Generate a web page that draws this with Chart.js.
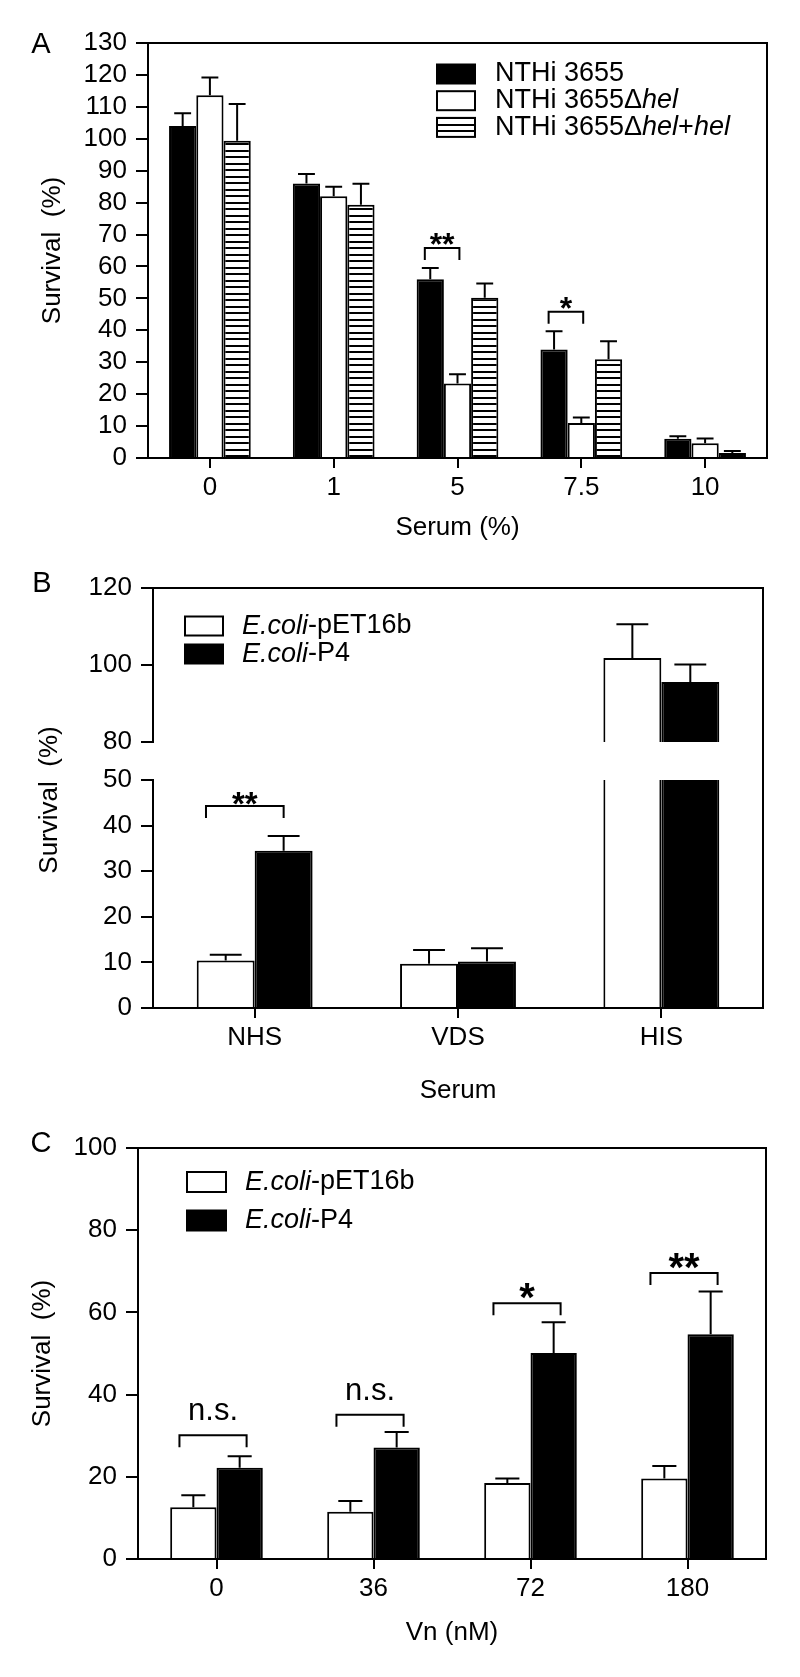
<!DOCTYPE html>
<html>
<head>
<meta charset="utf-8">
<script src="https://cdn.jsdelivr.net/npm/chart.js@4.4.0/dist/chart.umd.min.js"></script>
<style>
  html, body { margin: 0; padding: 0; background: #fff; }
  body { position: relative; width: 800px; height: 1677px; overflow: hidden; }
  canvas { position: absolute; left: 0; }
</style>
</head>
<body>
<canvas id="chartA" width="800" height="545" style="top:0px"></canvas>
<canvas id="chartBTop" width="800" height="565" style="top:545px"></canvas>
<canvas id="chartBBottom" width="800" height="352" style="top:758px"></canvas>
<canvas id="chartC" width="800" height="567" style="top:1110px"></canvas>
<script>
// ---- Panel A: survival vs serum concentration
const catsA = ['0', '1', '5', '7.5', '10'];
const seriesA = ['NTHi 3655', 'NTHi 3655Δ*hel*', 'NTHi 3655Δ*hel*+*hel*'];
const wtA = [104, 86, 56, 34, 6];
const wtErrA = [4, 3, 3.5, 5.7, 0.8];
const delA = [113.6, 82, 23.3, 11, 4.6];
const delErrA = [5.6, 3, 2.9, 1.7, 1.5];
const compA = [99.4, 79.3, 50.2, 30.9, 1.6];
const compErrA = [11.5, 6.6, 4.5, 5.7, 0.6];
const yRangeA = { min: 0, max: 130, step: 10 };
const sigA = [
  { cat: 2, a: 0, b: 1, y: 65.8, text: '**' },
  { cat: 3, a: 0, b: 1, y: 45.8, text: '*' },
];

// ---- Panel B: survival per serum type (broken y axis)
const catsB = ['NHS', 'VDS', 'HIS'];
const seriesB = ['*E.coli*-pET16b', '*E.coli*-P4'];
const vecB = [10.4, 9.7, 101.8];
const vecErrB = [1.3, 3.0, 8.8];
const p4B = [34.5, 10.2, 95.6];
const p4ErrB = [3.2, 2.9, 4.5];
const yRangeBTop = { min: 80, max: 120, step: 20 };
const yRangeBBottom = { min: 0, max: 50, step: 10 };
const sigB = [
  { cat: 0, a: 0, b: 1, y: 44.3, text: '**' },
];

// ---- Panel C: survival vs vitronectin
const catsC = ['0', '36', '72', '180'];
const seriesC = ['*E.coli*-pET16b', '*E.coli*-P4'];
const vecC = [12.6, 11.5, 18.5, 19.6];
const vecErrC = [2.9, 2.6, 1.1, 3.0];
const p4C = [22.2, 27.1, 50.1, 54.7];
const p4ErrC = [2.8, 3.8, 7.5, 10.4];
const yRangeC = { min: 0, max: 100, step: 20 };
const sigC = [
  { cat: 0, a: 0, b: 1, y: 30.1, text: 'n.s.' },
  { cat: 1, a: 0, b: 1, y: 35.1, text: 'n.s.' },
  { cat: 2, a: 0, b: 1, y: 62.2, text: '*' },
  { cat: 3, a: 0, b: 1, y: 69.6, text: '**' },
];

const FONT = '"Liberation Sans", Arial, Helvetica, sans-serif';
Chart.defaults.font.family = FONT;
Chart.defaults.color = '#000';

// horizontal stripe fill for the complemented strain
function hatch(canvasId) {
  const c = document.createElement('canvas');
  c.width = 8; c.height = 13;
  const g = c.getContext('2d');
  g.fillStyle = '#fff'; g.fillRect(0, 0, 8, 13);
  g.fillStyle = '#000'; g.fillRect(0, 0, 8, 2); g.fillRect(0, 7, 8, 2);
  return document.getElementById(canvasId).getContext('2d').createPattern(c, 'repeat');
}

// top + right lines of the box
const frame = {
  id: 'frame',
  afterDraw(chart, args, o) {
    const { ctx, chartArea: a } = chart;
    ctx.save();
    ctx.strokeStyle = '#000';
    ctx.lineWidth = 2;
    ctx.beginPath();
    if (o.top !== false) { ctx.moveTo(a.left, a.top); ctx.lineTo(a.right + 1, a.top); }
    if (o.right !== false) { ctx.moveTo(a.right, a.top - 1); ctx.lineTo(a.right, o.rightTo || a.bottom); }
    ctx.stroke();
    ctx.restore();
  }
};

// upper error bars (mean + SEM)
const errorBars = {
  id: 'errorBars',
  afterDatasetsDraw(chart, args, o) {
    const { ctx, chartArea: a, scales: { y } } = chart;
    ctx.save();
    ctx.beginPath();
    ctx.rect(a.left, a.top - 2, a.right - a.left, a.bottom - a.top + 2);
    ctx.clip();
    ctx.strokeStyle = '#000';
    ctx.lineWidth = 2;
    chart.data.datasets.forEach((ds, i) => {
      chart.getDatasetMeta(i).data.forEach((bar, j) => {
        const top = y.getPixelForValue(ds.data[j] + ds.err[j]);
        const half = bar.width * (o.cap || 0.6) / 2;
        ctx.beginPath();
        ctx.moveTo(bar.x, bar.y);
        ctx.lineTo(bar.x, top);
        ctx.moveTo(bar.x - half, top);
        ctx.lineTo(bar.x + half, top);
        ctx.stroke();
      });
    });
    ctx.restore();
  }
};

// significance brackets
const brackets = {
  id: 'brackets',
  afterDatasetsDraw(chart, args, o) {
    if (!o.items) return;
    const { ctx, scales: { y } } = chart;
    ctx.save();
    ctx.strokeStyle = '#000';
    ctx.fillStyle = '#000';
    ctx.lineWidth = 2;
    ctx.textAlign = 'center';
    ctx.textBaseline = 'alphabetic';
    o.items.forEach(b => {
      const barA = chart.getDatasetMeta(b.a).data[b.cat];
      const barB = chart.getDatasetMeta(b.b).data[b.cat];
      const x1 = barA.x - barA.width * o.inL;
      const x2 = barB.x + barB.width * o.inR;
      const yy = y.getPixelForValue(b.y);
      ctx.beginPath();
      ctx.moveTo(x1, yy + o.drop);
      ctx.lineTo(x1, yy);
      ctx.lineTo(x2, yy);
      ctx.lineTo(x2, yy + o.drop);
      ctx.stroke();
      const star = b.text.startsWith('*');
      ctx.font = star ? o.starFont : o.textFont;
      ctx.fillText(b.text, (x1 + x2) / 2, yy - (star ? o.starLift : o.textLift));
    });
    ctx.restore();
  }
};

// legend with partly italic labels (*...* = italic)
const richLegend = {
  id: 'richLegend',
  afterDraw(chart, args, o) {
    if (!o.x) return;
    const ctx = chart.ctx;
    ctx.save();
    chart.data.datasets.forEach((ds, i) => {
      const cy = o.y + i * o.rowH;
      ctx.fillStyle = ds.backgroundColor;
      ctx.fillRect(o.x, cy - o.boxH / 2, o.boxW, o.boxH);
      ctx.lineWidth = 2;
      ctx.strokeStyle = '#000';
      ctx.strokeRect(o.x, cy - o.boxH / 2, o.boxW, o.boxH);
      ctx.fillStyle = '#000';
      ctx.textBaseline = 'middle';
      let tx = o.textX;
      ds.label.split('*').forEach((part, k) => {
        ctx.font = (k % 2 ? 'italic ' : '') + o.size + 'px ' + FONT;
        ctx.fillText(part, tx, cy);
        tx += ctx.measureText(part).width;
      });
    });
    ctx.restore();
  }
};

// panel letters and free titles
const panelText = {
  id: 'panelText',
  afterDraw(chart, args, o) {
    if (!o.items) return;
    const ctx = chart.ctx;
    o.items.forEach(t => {
      ctx.save();
      ctx.translate(t.x, t.y);
      ctx.rotate(t.rot || 0);
      ctx.font = t.size + 'px ' + FONT;
      ctx.fillStyle = '#000';
      ctx.textAlign = 'center';
      ctx.textBaseline = 'middle';
      ctx.fillText(t.text, 0, 0);
      ctx.restore();
    });
  }
};

function bars(defs, catPct) {
  return defs.map(d => ({
    label: d.label, data: d.data, err: d.err,
    backgroundColor: d.fill, borderColor: '#000', borderWidth: 2,
    categoryPercentage: catPct, barPercentage: 1, clip: 0
  }));
}

function yScale(range, width, title, titlePad) {
  return {
    min: range.min, max: range.max,
    ticks: { stepSize: range.step, padding: 9, font: { size: 26, lineHeight: 1 }, color: '#000' },
    grid: { drawOnChartArea: false, tickLength: 12, lineWidth: 2, color: '#000' },
    border: { display: true, width: 2, color: '#000', z: 1 },
    title: title
      ? { display: true, text: title, font: { size: 26 }, color: '#000', padding: { top: titlePad, bottom: 0 } }
      : { display: false },
    afterFit: s => { s.width = width; }
  };
}

function xScale(height, title, titlePad, show = true) {
  return {
    display: show,
    grid: { offset: false, drawOnChartArea: false, tickLength: 10, lineWidth: 2, color: '#000' },
    border: { display: true, width: 2, color: '#000', z: 1 },
    ticks: { padding: 7, font: { size: 26, lineHeight: 1 }, color: '#000', maxRotation: 0, autoSkip: false },
    title: title
      ? { display: true, text: title, font: { size: 26 }, color: '#000', padding: { top: 0, bottom: titlePad } }
      : { display: false },
    afterFit: s => { s.height = height; }
  };
}

function makeChart(id, labels, datasets, padding, scales, plugins) {
  return new Chart(document.getElementById(id), {
    type: 'bar',
    data: { labels, datasets },
    options: {
      responsive: false,
      animation: false,
      layout: { padding },
      plugins: Object.assign({ legend: { display: false }, tooltip: { enabled: false } }, plugins),
      scales
    },
    plugins: [frame, errorBars, brackets, richLegend, panelText]
  });
}

// ---- A
makeChart('chartA', catsA, bars([
  { label: seriesA[0], data: wtA, err: wtErrA, fill: '#000' },
  { label: seriesA[1], data: delA, err: delErrA, fill: '#fff' },
  { label: seriesA[2], data: compA, err: compErrA, fill: hatch('chartA') },
], 0.66), { top: 43, right: 33, left: 0, bottom: 0 }, {
  x: xScale(87, 'Serum (%)', 2),
  y: yScale(yRangeA, 148, 'Survival  (%)', 37)
}, {
  frame: { top: true },
  errorBars: { cap: 0.62 },
  brackets: { items: sigA, inL: 0.2, inR: 0.07, drop: 12, starFont: 'bold 32px ' + FONT, textFont: '28px ' + FONT, starLift: -7, textLift: 14 },
  richLegend: { x: 437, y: 74, rowH: 26.7, boxW: 38, boxH: 19, textX: 495, size: 27 },
  panelText: { items: [{ text: 'A', x: 41, y: 45, size: 29 }] }
});

// ---- B upper segment (80-120)
makeChart('chartBTop', catsB, bars([
  { label: seriesB[0], data: vecB, err: vecErrB, fill: '#fff' },
  { label: seriesB[1], data: p4B, err: p4ErrB, fill: '#000' },
], 0.57), { top: 43, right: 37, left: 0, bottom: 368 }, {
  x: xScale(0, null, 0, false),
  y: yScale(yRangeBTop, 153, null, 0)
}, {
  frame: { top: true, rightTo: 463 },
  errorBars: { cap: 0.55 },
  richLegend: { x: 185, y: 81, rowH: 28, boxW: 38, boxH: 19, textX: 242, size: 27 },
  panelText: { items: [
    { text: 'B', x: 42, y: 39, size: 29 },
    { text: 'Survival  (%)', x: 50, y: 255, size: 26, rot: -Math.PI / 2 }
  ] }
});

// ---- B lower segment (0-50)
makeChart('chartBBottom', catsB, bars([
  { label: seriesB[0], data: vecB, err: vecErrB, fill: '#fff' },
  { label: seriesB[1], data: p4B, err: p4ErrB, fill: '#000' },
], 0.57), { top: 15, right: 37, left: 0, bottom: 0 }, {
  x: xScale(102, 'Serum', 4),
  y: yScale(yRangeBBottom, 153, null, 0)
}, {
  frame: { top: false, right: false },
  errorBars: { cap: 0.55 },
  brackets: { items: sigB, inL: 0.34, inR: 0.0, drop: 12, starFont: 'bold 33px ' + FONT, textFont: '30px ' + FONT, starLift: -9, textLift: 14 }
});

// ---- C
makeChart('chartC', catsC, bars([
  { label: seriesC[0], data: vecC, err: vecErrC, fill: '#fff' },
  { label: seriesC[1], data: p4C, err: p4ErrC, fill: '#000' },
], 0.59), { top: 38, right: 34, left: 0, bottom: 0 }, {
  x: xScale(118, 'Vn (nM)', 29),
  y: yScale(yRangeC, 138, 'Survival  (%)', 27)
}, {
  frame: { top: true },
  errorBars: { cap: 0.52 },
  brackets: { items: sigC, inL: 0.3, inR: 0.15, drop: 12, starFont: 'bold 40px ' + FONT, textFont: '31px ' + FONT, starLift: -8, textLift: 15 },
  richLegend: { x: 187, y: 72, rowH: 38.5, boxW: 39, boxH: 20, textX: 245, size: 27 },
  panelText: { items: [{ text: 'C', x: 41, y: 34, size: 29 }] }
});
</script>
</body>
</html>
